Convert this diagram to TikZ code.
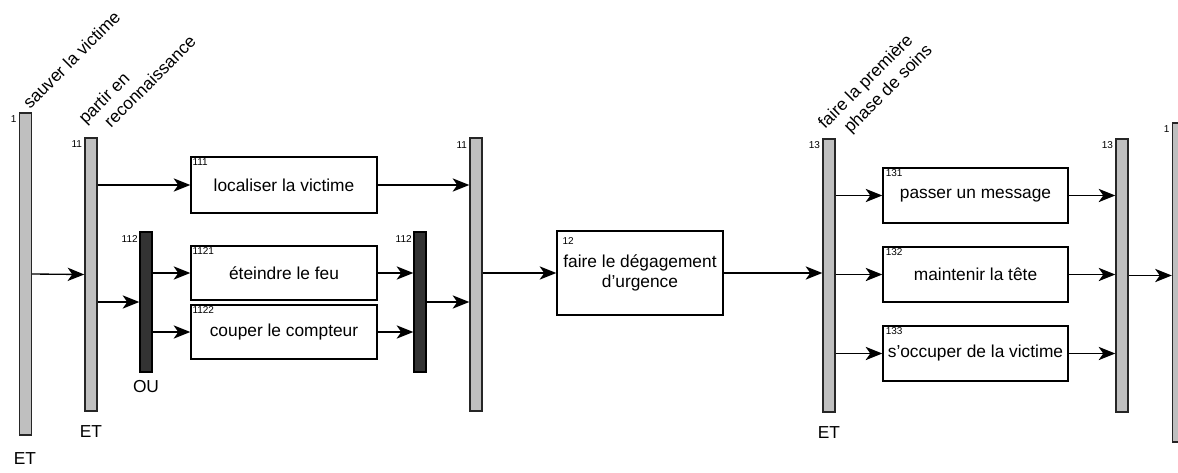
\documentclass[tikz,border=0pt]{standalone}
\usepackage{fontspec}
\setmainfont{Liberation Sans}
\usetikzlibrary{arrows.meta}
\newcommand{\mainfs}{\fontsize{13}{15.4}\selectfont}
\newcommand{\numfs}{\fontsize{7.5}{8.5}\selectfont}
\begin{document}
\begin{tikzpicture}[x=0.75pt,y=-0.75pt,
  etbar/.style={draw=black!85, line width=1.1pt, fill=black!25, inner sep=0pt, minimum width={12*0.75pt}},
  oubar/.style={draw=black, line width=1.1pt, fill=black!80, inner sep=0pt, minimum width={12*0.75pt}},
  taskbox/.style={draw=black, line width=1.1pt, fill=white, inner sep=0pt, font=\mainfs, align=center},
  numlbl/.style={font=\numfs, inner sep=0pt},
  barlbl/.style={font=\numfs, inner sep=0pt, anchor=north east},
  optlbl/.style={font=\mainfs, inner sep=0pt},
  rotlbl/.style={font=\mainfs, inner sep=0pt, anchor=base west, rotate=45},
  conn/.style={-{Stealth[length=12.5pt,width=10pt,inset=3.5pt]}, line width=1pt}
]
\useasboundingbox (0,0) rectangle (1178,472);
\clip (0,0) rectangle (1178,472);

% bars
\node[etbar, minimum height={322*0.75pt}] (b1) at (25.5,274) {};
\node[etbar, minimum height={273*0.75pt}] (b11a) at (91,274.5) {};
\node[oubar, minimum height={140*0.75pt}] (ou1) at (146,302) {};
\node[oubar, minimum height={140*0.75pt}] (ou2) at (420,302) {};
\node[etbar, minimum height={273*0.75pt}] (b11b) at (476,274.5) {};
\node[etbar, minimum height={273*0.75pt}] (b13a) at (829,275.5) {};
\node[etbar, minimum height={273*0.75pt}] (b13b) at (1122,275.5) {};
\node[etbar, minimum height={319*0.75pt}] (b1r) at (1178.5,282.5) {};

% bar labels
\node[barlbl] (l1) at ([xshift=-1.5pt,yshift=-2pt]b1.north west) {1};
\node[barlbl] (l11a) at ([xshift=-1.5pt,yshift=-2.5pt]b11a.north west) {11};
\node[barlbl] (l112a) at ([xshift=-1pt,yshift=-3pt]ou1.north west) {112};
\node[barlbl] (l112b) at ([xshift=-1pt,yshift=-3pt]ou2.north west) {112};
\node[barlbl] (l11b) at ([xshift=-1.5pt,yshift=-3pt]b11b.north west) {11};
\node[barlbl] (l13a) at ([xshift=-1.5pt,yshift=-2.5pt]b13a.north west) {13};
\node[barlbl] (l13b) at ([xshift=-1.5pt,yshift=-2.5pt]b13b.north west) {13};
\node[barlbl] (l1r) at ([xshift=-1.5pt,yshift=-2pt]b1r.north west) {1};

% operator labels
\node[optlbl] (et1) at (25,459) {ET};
\node[optlbl] (et11) at (91,432) {ET};
\node[optlbl] (ou) at (146,387) {OU};
\node[optlbl] (et13) at (829,433) {ET};

% rotated labels
\node[rotlbl] (r1) at (30,110) {sauver la victime};
\node[rotlbl] (r11a) at (85.5,125) {partir en};
\node[rotlbl] (r11b) at (111,129) {reconnaissance};
\node[rotlbl] (r13a) at (825,130) {faire la première};
\node[rotlbl] (r13b) at (850.5,134) {phase de soins};

% task boxes
\node[taskbox, minimum width={186*0.75pt}, minimum height={56*0.75pt}] (t111) at (284,185) {localiser la victime};
\node[taskbox, minimum width={186*0.75pt}, minimum height={54*0.75pt}] (t1121) at (284,273) {éteindre le feu};
\node[taskbox, minimum width={186*0.75pt}, minimum height={54*0.75pt}] (t1122) at (284,332) {couper le compteur};
\node[taskbox, minimum width={166*0.75pt}, minimum height={84*0.75pt}] (t12) at (640,273) {faire le dégagement\\d'urgence};
\node[taskbox, minimum width={185*0.75pt}, minimum height={55*0.75pt}] (t131) at (975.5,195.5) {passer un message};
\node[taskbox, minimum width={185*0.75pt}, minimum height={55*0.75pt}] (t132) at (975.5,274.5) {maintenir la tête};
\node[taskbox, minimum width={185*0.75pt}, minimum height={55*0.75pt}] (t133) at (975.5,353.5) {s'occuper de la victime};

% task numbers
\node[numlbl, anchor=north west] (n111) at ([xshift=1.5pt,yshift=-1.5pt]t111.north west) {111};
\node[numlbl, anchor=north west] (n1121) at ([xshift=1.5pt,yshift=-1.5pt]t1121.north west) {1121};
\node[numlbl, anchor=north west] (n1122) at ([xshift=1.5pt,yshift=-1.5pt]t1122.north west) {1122};
\node[numlbl, anchor=north west] (n12) at ([xshift=4.5pt,yshift=-5pt]t12.north west) {12};
\node[numlbl, anchor=north west] (n131) at ([xshift=2.5pt,yshift=-1.5pt]t131.north west) {131};
\node[numlbl, anchor=north west] (n132) at ([xshift=2.5pt,yshift=-1.5pt]t132.north west) {132};
\node[numlbl, anchor=north west] (n133) at ([xshift=2.5pt,yshift=-1.5pt]t133.north west) {133};

% connectors
\draw[conn] (b1.east) -- (b11a.west);
\draw[conn] (b11a.east |- t111.west) -- (t111.west);
\draw[conn] (b11a.east |- ou1.west) -- (ou1.west);
\draw[conn] (ou1.east |- t1121.west) -- (t1121.west);
\draw[conn] (ou1.east |- t1122.west) -- (t1122.west);
\draw[conn] (t1121.east) -- (t1121.east -| ou2.west);
\draw[conn] (t1122.east) -- (t1122.east -| ou2.west);
\draw[conn] (t111.east) -- (t111.east -| b11b.west);
\draw[conn] (ou2.east) -- (ou2.east -| b11b.west);
\draw[conn] (b11b.east |- t12.west) -- (t12.west);
\draw[conn] (t12.east) -- (t12.east -| b13a.west);
\draw[conn] (b13a.east |- t131.west) -- (t131.west);
\draw[conn] (b13a.east |- t132.west) -- (t132.west);
\draw[conn] (b13a.east |- t133.west) -- (t133.west);
\draw[conn] (t131.east) -- (t131.east -| b13b.west);
\draw[conn] (t132.east) -- (t132.east -| b13b.west);
\draw[conn] (t133.east) -- (t133.east -| b13b.west);
\draw[conn] (b13b.east) -- (b13b.east -| b1r.west);
\end{tikzpicture}
\end{document}
